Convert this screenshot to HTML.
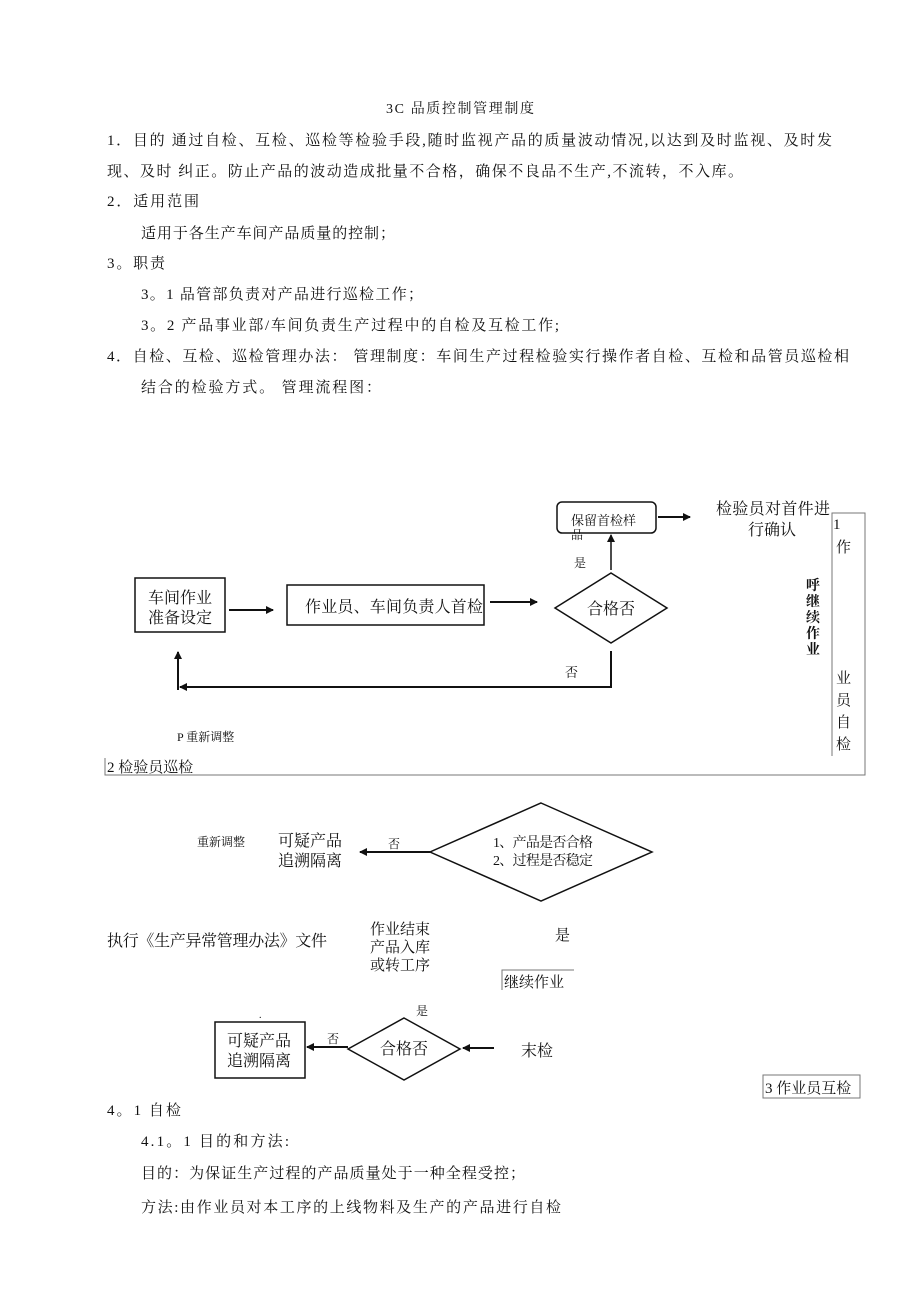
<!DOCTYPE html>
<html><head><meta charset="utf-8"><style>
html,body{margin:0;padding:0;background:#fff}
svg{display:block}
text{font-family:"Liberation Serif","Noto Serif CJK SC","Noto Sans CJK SC",serif;fill:#111}
.s{font-family:"Liberation Sans","Noto Sans CJK SC",sans-serif}
</style></head><body>
<svg width="920" height="1302" viewBox="0 0 920 1302">
<defs><marker id="a" markerWidth="8" markerHeight="8" refX="7" refY="4" orient="auto" markerUnits="userSpaceOnUse"><path d="M0,0 L8,4 L0,8 Z" fill="#111"/></marker></defs>
<g font-size="15">
<text x="386" y="113" font-size="14" textLength="148">3C 品质控制管理制度</text>
<text x="107" y="145" textLength="725">1．目的 通过自检、互检、巡检等检验手段,随时监视产品的质量波动情况,以达到及时监视、及时发</text>
<text x="107" y="176" textLength="636">现、及时 纠正。防止产品的波动造成批量不合格，确保不良品不生产,不流转，不入库。</text>
<text x="107" y="206" textLength="92">2．适用范围</text>
<text x="141" y="238" textLength="254">适用于各生产车间产品质量的控制；</text>
<text x="107" y="268" textLength="58">3。职责</text>
<text x="141" y="299" textLength="282">3。1 品管部负责对产品进行巡检工作；</text>
<text x="141" y="330" textLength="418">3。2 产品事业部/车间负责生产过程中的自检及互检工作;</text>
<text x="107" y="361" textLength="742">4．自检、互检、巡检管理办法： 管理制度：车间生产过程检验实行操作者自检、互检和品管员巡检相</text>
<text x="141" y="392" textLength="240">结合的检验方式。 管理流程图：</text>
</g>
<g stroke="#111" fill="none" stroke-width="1.5">
<rect x="557" y="502" width="99" height="31" rx="5"/>
<rect x="135" y="578" width="90" height="54"/>
<rect x="287" y="585" width="197" height="40"/>
<polygon points="611,573 667,608 611,643 555,608"/>
<polygon points="541,803 652,852 541,901 430,852"/>
<rect x="215" y="1022" width="90" height="56"/>
<polygon points="404,1018 460,1049 404,1080 348,1049"/>
<line x1="658" y1="517" x2="690" y2="517" marker-end="url(#a)" stroke-width="2"/>
<line x1="229" y1="610" x2="273" y2="610" marker-end="url(#a)" stroke-width="2"/>
<line x1="490" y1="602" x2="537" y2="602" marker-end="url(#a)" stroke-width="2"/>
<line x1="611" y1="570" x2="611" y2="535" marker-end="url(#a)"/>
<polyline points="611,651 611,687 180,687" marker-end="url(#a)" stroke-width="2"/>
<line x1="178" y1="690" x2="178" y2="652" marker-end="url(#a)" stroke-width="2"/>
<line x1="430" y1="852" x2="360" y2="852" marker-end="url(#a)" stroke-width="2"/>
<line x1="348" y1="1047" x2="307" y2="1047" marker-end="url(#a)" stroke-width="2"/>
<line x1="494" y1="1048" x2="463" y2="1048" marker-end="url(#a)" stroke-width="2"/>
</g>
<g stroke="#777" fill="none" stroke-width="1">
<polyline points="105,758 105,775 865,775 865,513 832,513 832,756"/>
<polyline points="502,990 502,970 574,970"/>
<rect x="763" y="1075" width="97" height="23"/>
</g>
<g font-size="15">
<text x="571" y="525" font-size="13">保留首检样</text>
<text x="571" y="539" font-size="12">品</text>
<text x="716" y="514" font-size="16" textLength="114">检验员对首件进</text>
<text x="748" y="535" font-size="16">行确认</text>
<text x="833" y="529">1</text>
<text x="836" y="552">作</text>
<text x="836" y="683">业</text>
<text x="836" y="705">员</text>
<text x="836" y="727">自</text>
<text x="836" y="749">检</text>
<g font-size="14" font-weight="bold" class="s"><text x="806" y="590">呼</text><text x="806" y="606">继</text><text x="806" y="622">续</text><text x="806" y="638">作</text><text x="806" y="654">业</text></g>
<text x="148" y="603" font-size="16">车间作业</text>
<text x="148" y="623" font-size="16">准备设定</text>
<text x="305" y="612" font-size="16" textLength="178">作业员、车间负责人首检</text>
<text x="587" y="614" font-size="16">合格否</text>
<text x="574" y="567" font-size="12">是</text>
<text x="565" y="677" font-size="13">否</text>
<text x="177" y="741" font-size="12">P 重新调整</text>
<text x="107" y="772">2 检验员巡检</text>
<text x="197" y="846" font-size="12">重新调整</text>
<text x="278" y="846" font-size="16">可疑产品</text>
<text x="278" y="866" font-size="16">追溯隔离</text>
<text x="388" y="848" font-size="12">否</text>
<text x="493" y="847" font-size="14" textLength="100">1、产品是否合格</text>
<text x="493" y="865" font-size="14" textLength="100">2、过程是否稳定</text>
<text x="107" y="946" font-size="16" textLength="220">执行《生产异常管理办法》文件</text>
<text x="370" y="934">作业结束</text>
<text x="370" y="952">产品入库</text>
<text x="370" y="970">或转工序</text>
<text x="555" y="940">是</text>
<text x="504" y="987">继续作业</text>
<text x="416" y="1015" font-size="12">是</text>
<text x="259" y="1018" font-size="10">.</text>
<text x="227" y="1046" font-size="16">可疑产品</text>
<text x="227" y="1066" font-size="16">追溯隔离</text>
<text x="327" y="1043" font-size="12">否</text>
<text x="380" y="1054" font-size="16">合格否</text>
<text x="521" y="1056" font-size="16">末检</text>
<text x="765" y="1093">3 作业员互检</text>
<text x="107" y="1115" textLength="74">4。1 自检</text>
<text x="141" y="1146" textLength="148">4.1。1 目的和方法:</text>
<text x="141" y="1178" textLength="384">目的：为保证生产过程的产品质量处于一种全程受控；</text>
<text x="141" y="1212" textLength="420">方法:由作业员对本工序的上线物料及生产的产品进行自检</text>
</g>
</svg>
</body></html>
